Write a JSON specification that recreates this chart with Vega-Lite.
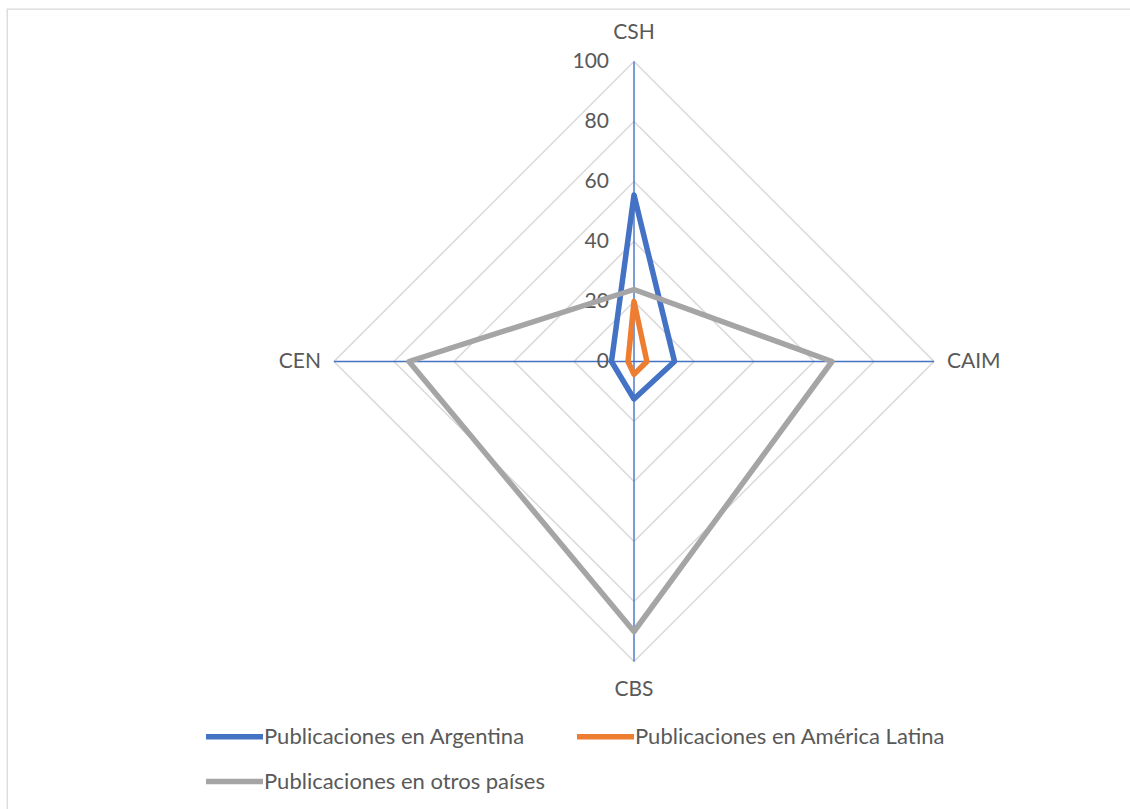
{
  "$schema": "https://vega.github.io/schema/vega-lite/v6.json",
  "width": 1127,
  "height": 810,
  "autosize": {"type": "none"},
  "padding": {"left": 7, "top": 9, "right": 0, "bottom": 0},
  "background": "white",
  "config": {
    "view": {"stroke": "#D9D9D9", "strokeWidth": 1.3},
    "font": "Lato",
    "text": {"font": "Lato", "fontSize": 21, "fill": "#595959"}
  },
  "datasets": {
    "series": [
      {"serie": "Publicaciones en Argentina", "eje": "CSH", "valor": 55.5},
      {"serie": "Publicaciones en Argentina", "eje": "CAIM", "valor": 13.5},
      {"serie": "Publicaciones en Argentina", "eje": "CBS", "valor": 12.5},
      {"serie": "Publicaciones en Argentina", "eje": "CEN", "valor": 7.5},
      {"serie": "Publicaciones en América Latina", "eje": "CSH", "valor": 20},
      {"serie": "Publicaciones en América Latina", "eje": "CAIM", "valor": 4.3},
      {"serie": "Publicaciones en América Latina", "eje": "CBS", "valor": 4.3},
      {"serie": "Publicaciones en América Latina", "eje": "CEN", "valor": 2},
      {"serie": "Publicaciones en otros países", "eje": "CSH", "valor": 24},
      {"serie": "Publicaciones en otros países", "eje": "CAIM", "valor": 66},
      {"serie": "Publicaciones en otros países", "eje": "CBS", "valor": 90},
      {"serie": "Publicaciones en otros países", "eje": "CEN", "valor": 75}
    ],
    "grid": [
      {"nivel": 20, "eje": "CSH"}, {"nivel": 20, "eje": "CAIM"}, {"nivel": 20, "eje": "CBS"}, {"nivel": 20, "eje": "CEN"},
      {"nivel": 40, "eje": "CSH"}, {"nivel": 40, "eje": "CAIM"}, {"nivel": 40, "eje": "CBS"}, {"nivel": 40, "eje": "CEN"},
      {"nivel": 60, "eje": "CSH"}, {"nivel": 60, "eje": "CAIM"}, {"nivel": 60, "eje": "CBS"}, {"nivel": 60, "eje": "CEN"},
      {"nivel": 80, "eje": "CSH"}, {"nivel": 80, "eje": "CAIM"}, {"nivel": 80, "eje": "CBS"}, {"nivel": 80, "eje": "CEN"},
      {"nivel": 100, "eje": "CSH"}, {"nivel": 100, "eje": "CAIM"}, {"nivel": 100, "eje": "CBS"}, {"nivel": 100, "eje": "CEN"}
    ],
    "ticks": [{"v": 0}, {"v": 20}, {"v": 40}, {"v": 60}, {"v": 80}, {"v": 100}]
  },
  "layer": [
    {
      "data": {"name": "grid"},
      "transform": [
        {"calculate": "datum.eje == 'CAIM' ? datum.nivel : datum.eje == 'CEN' ? -datum.nivel : 0", "as": "x"},
        {"calculate": "datum.eje == 'CSH' ? datum.nivel : datum.eje == 'CBS' ? -datum.nivel : 0", "as": "y"},
        {"calculate": "indexof(['CSH','CAIM','CBS','CEN'], datum.eje)", "as": "ord"}
      ],
      "mark": {"type": "line", "interpolate": "linear-closed", "stroke": "#D9D9D9", "strokeWidth": 1.5},
      "encoding": {
        "x": {"field": "x", "type": "quantitative", "scale": {"domain": [-209, 166.667], "nice": false, "zero": false}, "axis": null},
        "y": {"field": "y", "type": "quantitative", "scale": {"domain": [-152.5, 117.5], "nice": false, "zero": false}, "axis": null},
        "detail": {"field": "nivel"},
        "order": {"field": "ord"}
      }
    },
    {
      "data": {"name": "grid"},
      "transform": [
        {"filter": "datum.nivel == 100"},
        {"calculate": "datum.eje == 'CAIM' ? datum.nivel : datum.eje == 'CEN' ? -datum.nivel : 0", "as": "x"},
        {"calculate": "datum.eje == 'CSH' ? datum.nivel : datum.eje == 'CBS' ? -datum.nivel : 0", "as": "y"}
      ],
      "mark": {"type": "rule", "stroke": "#4472C4", "strokeWidth": 1.4},
      "encoding": {
        "x": {"field": "x", "type": "quantitative", "scale": {"domain": [-209, 166.667], "nice": false, "zero": false}, "axis": null},
        "y": {"field": "y", "type": "quantitative", "scale": {"domain": [-152.5, 117.5], "nice": false, "zero": false}, "axis": null},
        "x2": {"datum": 0},
        "y2": {"datum": 0}
      }
    },
    {
      "data": {"name": "ticks"},
      "mark": {"type": "text", "align": "right", "baseline": "middle", "dx": -25},
      "encoding": {
        "x": {"datum": 0, "type": "quantitative", "scale": {"domain": [-209, 166.667], "nice": false, "zero": false}, "axis": null},
        "y": {"field": "v", "type": "quantitative", "scale": {"domain": [-152.5, 117.5], "nice": false, "zero": false}, "axis": null},
        "text": {"field": "v"}
      }
    },
    {
      "data": {"name": "series"},
      "transform": [
        {"calculate": "datum.eje == 'CAIM' ? datum.valor : datum.eje == 'CEN' ? -datum.valor : 0", "as": "x"},
        {"calculate": "datum.eje == 'CSH' ? datum.valor : datum.eje == 'CBS' ? -datum.valor : 0", "as": "y"},
        {"calculate": "indexof(['CSH','CAIM','CBS','CEN'], datum.eje)", "as": "ord"}
      ],
      "mark": {"type": "line", "interpolate": "linear-closed", "strokeWidth": 5.5, "strokeJoin": "round", "strokeCap": "round"},
      "encoding": {
        "x": {"field": "x", "type": "quantitative", "scale": {"domain": [-209, 166.667], "nice": false, "zero": false}, "axis": null},
        "y": {"field": "y", "type": "quantitative", "scale": {"domain": [-152.5, 117.5], "nice": false, "zero": false}, "axis": null},
        "order": {"field": "ord"},
        "color": {
          "field": "serie",
          "type": "nominal",
          "scale": {
            "domain": ["Publicaciones en Argentina", "Publicaciones en América Latina", "Publicaciones en otros países"],
            "range": ["#4472C4", "#ED7D31", "#A5A5A5"]
          },
          "legend": {
            "orient": "none",
            "legendX": 196,
            "legendY": 696,
            "columns": 2,
            "direction": "horizontal",
            "title": null,
            "symbolType": "stroke",
            "symbolSize": 3249,
            "symbolStrokeWidth": 5.5,
            "labelFontSize": 22,
            "labelColor": "#595959",
            "labelFont": "Lato",
            "labelOffset": -2,
            "labelLimit": 0,
            "columnPadding": 20,
            "rowPadding": 2
          }
        }
      }
    },
    {
      "data": {"name": "grid"},
      "transform": [{"filter": "datum.nivel == 100 && datum.eje == 'CSH'"}],
      "mark": {"type": "text", "align": "center", "baseline": "middle", "dy": -29},
      "encoding": {
        "x": {"datum": 0, "type": "quantitative", "scale": {"domain": [-209, 166.667], "nice": false, "zero": false}, "axis": null},
        "y": {"field": "nivel", "type": "quantitative", "scale": {"domain": [-152.5, 117.5], "nice": false, "zero": false}, "axis": null},
        "text": {"field": "eje"}
      }
    },
    {
      "data": {"name": "grid"},
      "transform": [{"filter": "datum.nivel == 100 && datum.eje == 'CBS'"}, {"calculate": "-datum.nivel", "as": "y"}],
      "mark": {"type": "text", "align": "center", "baseline": "middle", "dy": 28},
      "encoding": {
        "x": {"datum": 0, "type": "quantitative", "scale": {"domain": [-209, 166.667], "nice": false, "zero": false}, "axis": null},
        "y": {"field": "y", "type": "quantitative", "scale": {"domain": [-152.5, 117.5], "nice": false, "zero": false}, "axis": null},
        "text": {"field": "eje"}
      }
    },
    {
      "data": {"name": "grid"},
      "transform": [{"filter": "datum.nivel == 100 && datum.eje == 'CAIM'"}],
      "mark": {"type": "text", "align": "left", "baseline": "middle", "dx": 13},
      "encoding": {
        "x": {"field": "nivel", "type": "quantitative", "scale": {"domain": [-209, 166.667], "nice": false, "zero": false}, "axis": null},
        "y": {"datum": 0, "type": "quantitative", "scale": {"domain": [-152.5, 117.5], "nice": false, "zero": false}, "axis": null},
        "text": {"field": "eje"}
      }
    },
    {
      "data": {"name": "grid"},
      "transform": [{"filter": "datum.nivel == 100 && datum.eje == 'CEN'"}, {"calculate": "-datum.nivel", "as": "x"}],
      "mark": {"type": "text", "align": "right", "baseline": "middle", "dx": -13},
      "encoding": {
        "x": {"field": "x", "type": "quantitative", "scale": {"domain": [-209, 166.667], "nice": false, "zero": false}, "axis": null},
        "y": {"datum": 0, "type": "quantitative", "scale": {"domain": [-152.5, 117.5], "nice": false, "zero": false}, "axis": null},
        "text": {"field": "eje"}
      }
    },
    {
      "mark": {"type": "text", "align": "left", "baseline": "middle", "text": "Millares"},
      "encoding": {
        "x": {"datum": -152.3, "type": "quantitative", "scale": {"domain": [-209, 166.667], "nice": false, "zero": false}, "axis": null},
        "y": {"datum": 92.8, "type": "quantitative", "scale": {"domain": [-152.5, 117.5], "nice": false, "zero": false}, "axis": null}
      }
    }
  ]
}
